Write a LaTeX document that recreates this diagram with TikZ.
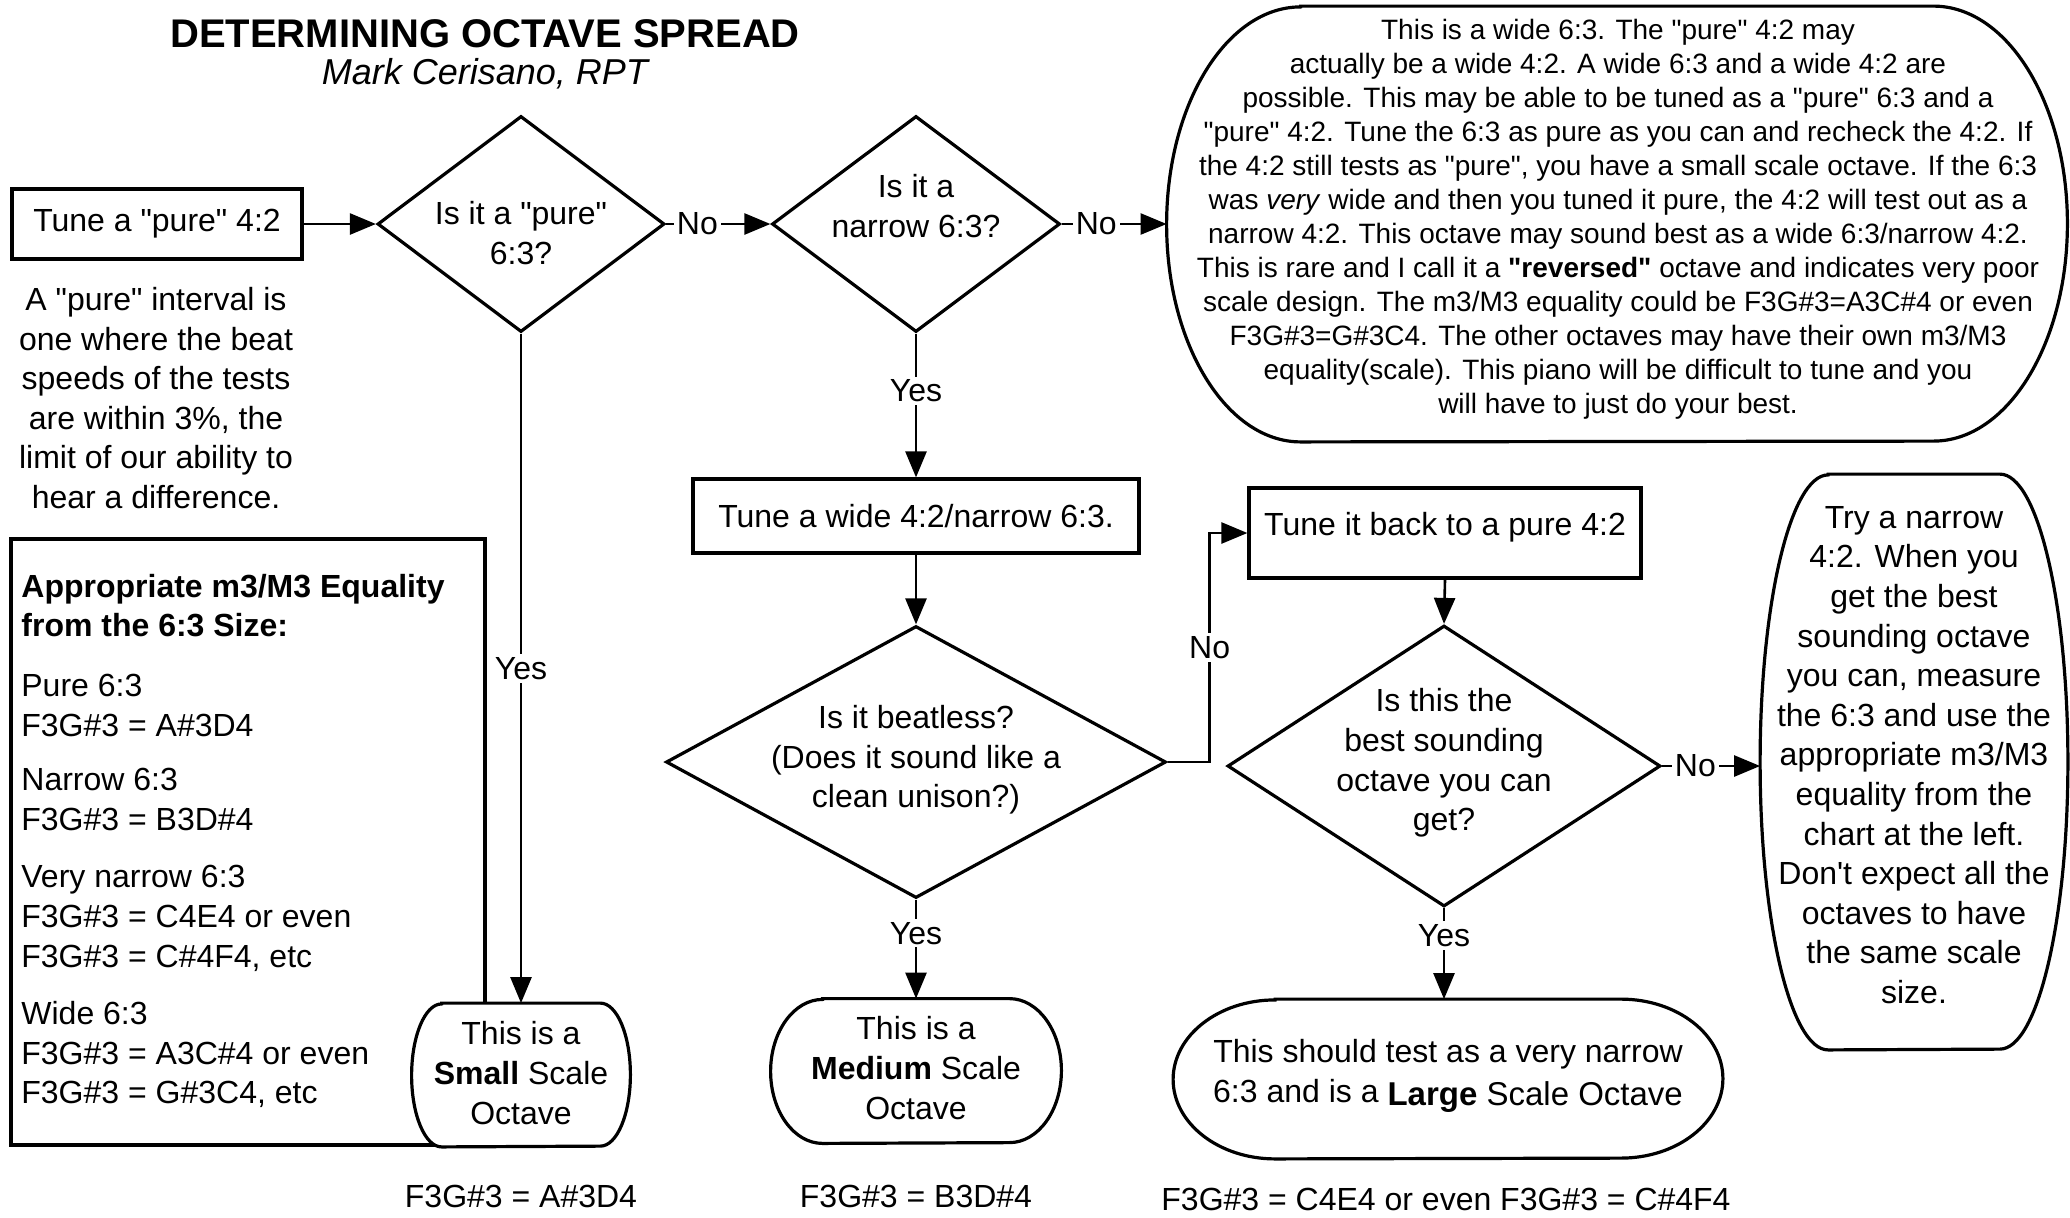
\documentclass[tikz,border=0pt]{standalone}
\usepackage{fontspec}
\setmainfont{Liberation Sans}[Ligatures=TeXOff]
\usetikzlibrary{shapes.geometric,arrows.meta,calc}

% outline of a flat-topped oval around a (geometry) node: #1 node, #2 x radius, #3 half height
\newcommand\ovalpath[3]{%
  \draw[shapeline,fill=white] ([xshift=#2]#1.north west) -- ([xshift=-#2]#1.north east)
    arc[start angle=90,end angle=-90,x radius=#2,y radius=#3]
    -- ([xshift=#2]#1.south west)
    arc[start angle=270,end angle=90,x radius=#2,y radius=#3] -- cycle;}

\begin{document}
\begin{tikzpicture}[x=0.5pt,y=-0.5pt,
  every node/.style={font=\fontsize{16pt}{19.8pt}\selectfont, inner sep=0pt},
  shapeline/.style={draw=black, line width=1.6pt},
  conn/.style={draw=black, line width=1.3pt},
  arr/.style={conn,-{Triangle[length=13pt,width=10.5pt]}},
  procbox/.style={rectangle, shapeline, align=center},
  decision/.style={diamond, shapeline, aspect=1},
  geo/.style={rectangle, draw=none},
  txt/.style={align=center},
  lab/.style={fill=white, inner sep=1.5pt}]

\fill[white] (0,0) rectangle (2070,1217);
\useasboundingbox (0,0) rectangle (2070,1217);

% title
\node[font=\fontsize{20pt}{24pt}\selectfont\bfseries] (title) at (485,34) {DETERMINING OCTAVE SPREAD};
\node[font=\fontsize{18pt}{22pt}\selectfont\itshape] (author) at (485,74) {Mark Cerisano, RPT};

% start
\node[procbox, minimum width=145pt, minimum height=35pt] (a) at (157,224) {Tune a "pure" 4:2};
\node[txt] (note) at (156,398) {A "pure" interval is\\one where the beat\\speeds of the tests\\are within 3\%, the\\limit of our ability to\\hear a difference.};

% decisions
\node[decision, minimum width=143.5pt, minimum height=108pt] (d1) at (521,224) {};
\node[txt] (d1t) at (521,233) {Is it a "pure"\\6:3?};
\node[decision, minimum width=144pt, minimum height=108pt] (d2) at (916,224) {};
\node[txt] (d2t) at (916,206) {Is it a\\narrow 6:3?};
\node[decision, minimum width=250pt, minimum height=136pt] (d3) at (916,762) {};
\node[txt] (d3t) at (916,760) {Is it beatless?\\(Does it sound like a\\clean unison?)};
\node[decision, minimum width=216.5pt, minimum height=140.5pt] (d4) at (1444,766) {};
\node[txt] (d4t) at (1444,763) {Is this the\\best sounding\\octave you can\\get?};

% process boxes
\node[procbox, minimum width=223pt, minimum height=37pt] (b) at (916,516) {Tune a wide 4:2/narrow 6:3.};
\node[procbox, minimum width=196pt, minimum height=45pt] (c) at (1445,533) {};
\node[txt] (ct) at (1445,527) {Tune it back to a pure 4:2};

% big oval (wide 6:3)
\node[geo, minimum width=450pt, minimum height=217.5pt] (e1) at (1617,224) {};
\ovalpath{e1}{67pt}{108.75pt}
\node[txt, font=\fontsize{14pt}{17pt}\selectfont] (e1t) at (1618,219) {This is a wide 6:3. The "pure" 4:2 may\\
actually be a wide 4:2. A wide 6:3 and a wide 4:2 are\\
possible. This may be able to be tuned as a "pure" 6:3 and a\\
"pure" 4:2. Tune the 6:3 as pure as you can and recheck the 4:2. If\\
the 4:2 still tests as "pure", you have a small scale octave. If the 6:3\\
was \textit{very} wide and then you tuned it pure, the 4:2 will test out as a\\
narrow 4:2. This octave may sound best as a wide 6:3/narrow 4:2.\\
This is rare and I call it a \textbf{"reversed"} octave and indicates very poor\\
scale design. The m3/M3 equality could be F3G\#3=A3C\#4 or even\\
F3G\#3=G\#3C4. The other octaves may have their own m3/M3\\
equality(scale). This piano will be difficult to tune and you\\
will have to just do your best.};

% right oval
\node[geo, minimum width=153.5pt, minimum height=287.5pt] (e2) at (1914,762) {};
\ovalpath{e2}{34pt}{143.75pt}
\node[txt] (e2t) at (1914,755) {Try a narrow\\4:2. When you\\get the best\\sounding octave\\you can, measure\\the 6:3 and use the\\appropriate m3/M3\\equality from the\\chart at the left.\\Don't expect all the\\octaves to have\\the same scale\\size.};

% legend
\node[rectangle, shapeline, minimum width=237pt, minimum height=303pt] (legend) at (248,842) {};
\node[align=left, anchor=west] (legendt) at (21,841) {\textbf{Appropriate m3/M3 Equality}\\
\textbf{from the 6:3 Size:}\\[10pt]
Pure 6:3\\
F3G\#3 = A\#3D4\\[7.5pt]
Narrow 6:3\\
F3G\#3 = B3D\#4\\[9pt]
Very narrow 6:3\\
F3G\#3 = C4E4 or even\\
F3G\#3 = C\#4F4, etc\\[9pt]
Wide 6:3\\
F3G\#3 = A3C\#4 or even\\
F3G\#3 = G\#3C4, etc};

% terminal ovals
\node[geo, minimum width=109pt, minimum height=71.5pt] (o1) at (521,1075) {};
\ovalpath{o1}{15pt}{35.75pt}
\node[txt] (o1t) at (521,1073) {This is a\\\textbf{Small} Scale\\Octave};

\node[geo, minimum width=145pt, minimum height=72pt] (o2) at (916,1071) {};
\ovalpath{o2}{26pt}{36pt}
\node[txt] (o2t) at (916,1068) {This is a\\\textbf{Medium} Scale\\Octave};

\node[geo, minimum width=274.5pt, minimum height=79.5pt] (o3) at (1448,1079) {};
\ovalpath{o3}{51pt}{39.75pt}
\node[txt] (o3t) at (1448,1076) {This should test as a very narrow\\
6:3 and is a {\fontsize{16.5pt}{19.8pt}\selectfont\raisebox{-1.5pt}{\textbf{Large} Scale Octave}}};

% bottom equalities
\node (f1) at (521,1196) {F3G\#3 = A\#3D4};
\node (f2) at (916,1196) {F3G\#3 = B3D\#4};
\node (f3) at (1446,1199) {F3G\#3 = C4E4 or even F3G\#3 = C\#4F4};

% connectors
\draw[arr] (a.east) -- (d1.west);
\draw[arr] (d1.east) -- node[lab, pos=0.3] {No} (d2.west);
\draw[arr] (d2.east) -- node[lab, pos=0.33] {No} (e1.west);
\draw[arr] (d1.south) -- node[lab] {Yes} (o1.north);
\draw[arr] (d2.south) -- node[lab, pos=0.4] {Yes} (b.north);
\draw[arr] (b.south) -- (d3.north);
\draw[arr] (d3.east) -- ++(42,0) |- node[lab, pos=0.25] {No} (c.west);
\draw[arr] (c.south) -- (d4.north);
\draw[arr] (d3.south) -- node[lab, pos=0.34] {Yes} (o2.north);
\draw[arr] (d4.south) -- node[lab, pos=0.3] {Yes} (d4.south |- o3.north);
\draw[arr] (d4.east) -- node[lab, pos=0.34] {No} (d4.east -| e2.west);

\end{tikzpicture}
\end{document}
